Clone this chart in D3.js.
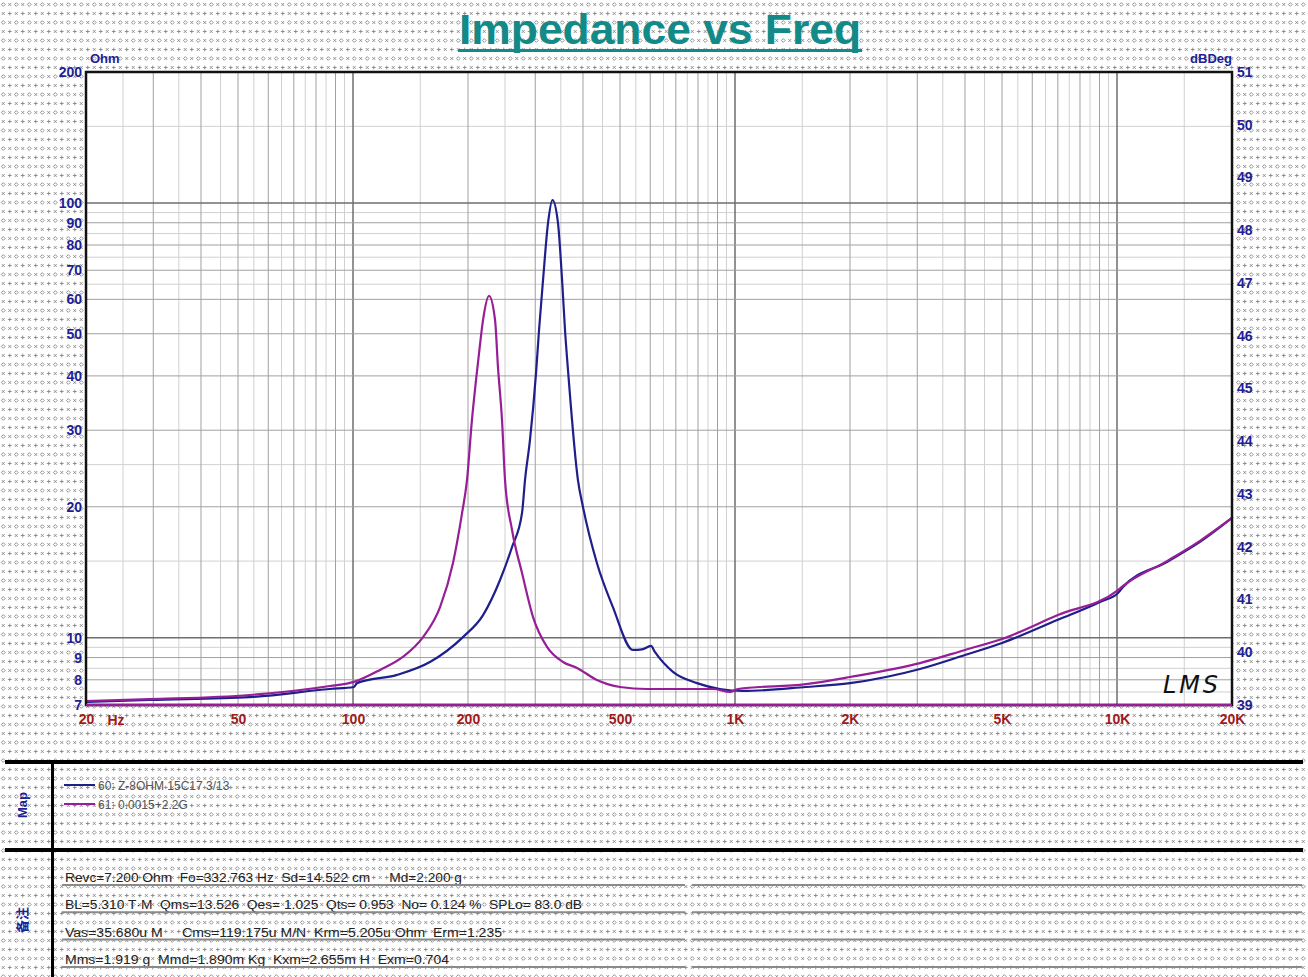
<!DOCTYPE html>
<html>
<head>
<meta charset="utf-8">
<script src="https://cdn.jsdelivr.net/npm/d3@7"></script>
<style>
body { margin: 0; background: #fff; }
svg { display: block; }
text { white-space: pre; }
</style>
</head>
<body>
<script>
var width = 1308;
var height = 977;

// 60: Z-8OHM 15C17 3/13  (Hz / Ohm)
var blueFreq = [20, 29.4, 53.7, 87, 100.6, 102.4, 130.4, 159, 194, 219, 242.6, 260.8, 277, 282, 290.6, 301.4, 306.9, 314.4, 324, 332.8, 344, 352.6, 358.9, 366.6, 388, 400, 435, 479, 540.6, 570.8, 602.6, 617, 688, 795, 913, 1049, 1534, 2000, 3050, 4000, 5000, 7000, 9026, 10060, 10370, 13510, 16490, 20000];
var blueOhm = [7.11, 7.19, 7.30, 7.62, 7.70, 7.86, 8.21, 8.79, 10.03, 11.27, 13.57, 16.16, 19.36, 23.04, 28.5, 40.6, 51.0, 66.5, 89.9, 101.5, 89.9, 66.5, 51.0, 39.8, 23.04, 19.98, 14.85, 11.76, 9.37, 9.40, 9.57, 9.27, 8.34, 7.86, 7.62, 7.54, 7.70, 7.86, 8.47, 9.12, 9.72, 10.99, 12.08, 12.67, 13.08, 14.93, 16.6, 18.85];

// 61: 0.0015+2.2G
var magFreq = [20, 29.4, 53.7, 87, 100.6, 117.7, 135, 152.5, 169, 182.7, 193, 198.8, 204.8, 209.9, 213.8, 219, 227, 235.4, 239.6, 245.5, 250, 260.8, 277, 296, 322, 354.6, 385.8, 435, 500, 588, 876, 970, 1018, 1534, 2000, 3050, 4000, 5000, 7000, 10000, 10370, 13510, 16490, 20000];
var magOhm = [7.15, 7.22, 7.38, 7.74, 7.91, 8.43, 9.03, 10.03, 11.76, 14.85, 19.36, 23.04, 31.66, 39.1, 45.2, 53.8, 61.1, 53.8, 41.9, 31.66, 23.04, 17.69, 14.08, 11.15, 9.52, 8.79, 8.52, 7.99, 7.70, 7.62, 7.62, 7.50, 7.62, 7.82, 8.12, 8.74, 9.37, 9.93, 11.27, 12.81, 13.15, 15.0, 16.7, 18.85];

var xTicks = [20, 50, 100, 200, 500, 1000, 2000, 5000, 10000, 20000];
var xTickLabels = ["20", "50", "100", "200", "500", "1K", "2K", "5K", "10K", "20K"];
var yTicks = [7, 8, 9, 10, 20, 30, 40, 50, 60, 70, 80, 90, 100, 200];
var yMinorGrid = [7.5, 8.5, 9.5, 15, 25, 65, 75, 85, 95, 150];
var rightTicks = [39, 40, 41, 42, 43, 44, 45, 46, 47, 48, 49, 50, 51];

var legendNames = ["60: Z-8OHM 15C17 3/13", "61: 0.0015+2.2G"];
var paramLines = [
    "Revc=7.200 Ohm  Fo=332.763 Hz  Sd=14.522 cm     Md=2.200 g",
    "BL=5.310 T\u00b7M  Qms=13.526  Qes= 1.025  Qts= 0.953  No= 0.124 %  SPLo= 83.0 dB",
    "Vas=35.680u M     Cms=119.175u M/N  Krm=5.205u Ohm  Erm=1.235",
    "Mms=1.919 g  Mmd=1.890m Kg  Kxm=2.655m H  Exm=0.704"
];
var paramWidths = [397, 517, 437, 384];

var navy = "#1e1e96";
var blueCol = "#1f1f8c";
var magCol = "#971e97";
var font = "'Liberation Sans', Arial, sans-serif";

var plotL = 86, plotT = 72, plotR = 1232, plotB = 705;

var x = d3.scaleLog().domain([20, 20000]).range([plotL, plotR]);
var y = d3.scaleLog().domain([7, 200]).range([plotB, plotT]);
var yR = d3.scaleLinear().domain([39, 51]).range([plotB, plotT]);

var svg = d3.select("body").append("svg")
    .attr("width", width)
    .attr("height", height);

// dotted background texture
var pat = svg.append("defs").append("pattern")
    .attr("id", "dots")
    .attr("patternUnits", "userSpaceOnUse")
    .attr("width", 13)
    .attr("height", 18);
pat.append("rect").attr("width", 13).attr("height", 18).attr("fill", "#fff");
pat.append("path")
    .attr("d", "M3.25,2.6L5.15,4.5L3.25,6.4L1.35,4.5Z M8.3,3.05L11.2,5.95M11.2,3.05L8.3,5.95 M1.8,12.05L4.7,14.95M4.7,12.05L1.8,14.95 M9.75,11.6V15.4M7.85,13.5H11.65")
    .attr("fill", "none")
    .attr("stroke", "#858585")
    .attr("stroke-width", 0.9);

svg.append("rect")
    .attr("width", width)
    .attr("height", height)
    .attr("fill", "url(#dots)");

// title
svg.append("text")
    .attr("x", 660)
    .attr("y", 44)
    .attr("text-anchor", "middle")
    .attr("font-family", font)
    .attr("font-weight", "bold")
    .attr("font-size", 42)
    .attr("fill", "#128a88")
    .attr("textLength", 402)
    .attr("lengthAdjust", "spacingAndGlyphs")
    .text("Impedance vs Freq");
svg.append("rect")
    .attr("x", 458).attr("y", 49)
    .attr("width", 404).attr("height", 3)
    .attr("fill", "#128a88");

// plot area
svg.append("rect")
    .attr("x", plotL).attr("y", plotT)
    .attr("width", plotR - plotL).attr("height", plotB - plotT)
    .attr("fill", "#fff");

// grid values
var xGrid = [];
[[20, 100, 5], [100, 1000, 50], [1000, 10000, 500], [10000, 20000, 5000]].forEach(function(s) {
    d3.range(s[0], s[1], s[2]).forEach(function(v) { xGrid.push(v); });
});
xGrid.push(20000);

function isDecade(v) { return [100, 1000, 10000].indexOf(v) >= 0; }
function isWhole(v) {
    var p = Math.pow(10, Math.floor(Math.log10(v)));
    return Math.abs(v / p - Math.round(v / p)) < 1e-9;
}

var grid = svg.append("g");

grid.selectAll(".ymin")
    .data(yMinorGrid)
    .enter().append("line")
    .attr("x1", plotL).attr("x2", plotR)
    .attr("y1", d => y(d)).attr("y2", d => y(d))
    .attr("stroke", "#d0d0d0");

grid.selectAll(".vx")
    .data(xGrid)
    .enter().append("line")
    .attr("x1", d => x(d)).attr("x2", d => x(d))
    .attr("y1", plotT).attr("y2", plotB)
    .attr("stroke", d => isDecade(d) ? "#6e6e6e" : (isWhole(d) ? "#a0a0a0" : "#d0d0d0"))
    .attr("stroke-width", d => isDecade(d) ? 1.5 : 1);

grid.selectAll(".ymaj")
    .data(yTicks)
    .enter().append("line")
    .attr("x1", plotL).attr("x2", plotR)
    .attr("y1", d => y(d)).attr("y2", d => y(d))
    .attr("stroke", d => (d === 10 || d === 100) ? "#6e6e6e" : "#a0a0a0")
    .attr("stroke-width", d => (d === 10 || d === 100) ? 1.5 : 1);

// curves
var line = d3.line()
    .x(d => x(d[0]))
    .y(d => y(d[1]))
    .curve(d3.curveMonotoneX);

var curves = [
    { color: blueCol, pts: d3.zip(blueFreq, blueOhm) },
    { color: magCol, pts: d3.zip(magFreq, magOhm) }
];

svg.append("g").selectAll("path")
    .data(curves)
    .enter().append("path")
    .attr("d", d => line(d.pts))
    .attr("fill", "none")
    .attr("stroke", d => d.color)
    .attr("stroke-width", 2.2)
    .attr("stroke-linejoin", "round");

// frame
svg.append("rect")
    .attr("x", plotL).attr("y", plotT)
    .attr("width", plotR - plotL).attr("height", plotB - plotT)
    .attr("fill", "none")
    .attr("stroke", "#111")
    .attr("stroke-width", 2.5);
svg.append("line")
    .attr("x1", plotL).attr("x2", plotR)
    .attr("y1", plotB).attr("y2", plotB)
    .attr("stroke", magCol)
    .attr("stroke-width", 2.5);

// axes
function styleAxis(g, color) {
    g.select(".domain").remove();
    g.selectAll("text")
        .attr("font-family", font)
        .attr("font-weight", "bold")
        .attr("font-size", 14)
        .attr("fill", color);
}

svg.append("g")
    .attr("transform", "translate(" + plotL + ",0)")
    .call(d3.axisLeft(y).tickValues(yTicks).tickFormat(d3.format("d")).tickSize(0).tickPadding(4))
    .call(g => styleAxis(g, navy));

svg.append("g")
    .attr("transform", "translate(" + plotR + ",0)")
    .call(d3.axisRight(yR).tickValues(rightTicks).tickFormat(d3.format("d")).tickSize(0).tickPadding(5))
    .call(g => styleAxis(g, navy));

svg.append("g")
    .attr("transform", "translate(0," + plotB + ")")
    .call(d3.axisBottom(x).tickValues(xTicks).tickFormat((d, i) => xTickLabels[i]).tickSize(0).tickPadding(9))
    .call(g => styleAxis(g, "#a01a1a"));

svg.append("text")
    .attr("x", 116).attr("y", 725)
    .attr("text-anchor", "middle")
    .attr("font-family", font).attr("font-weight", "bold").attr("font-size", 14)
    .attr("fill", "#a01a1a")
    .text("Hz");

svg.append("text")
    .attr("x", 90).attr("y", 63)
    .attr("font-family", font).attr("font-weight", "bold").attr("font-size", 13)
    .attr("fill", navy)
    .text("Ohm");
svg.append("text")
    .attr("x", 1232).attr("y", 63)
    .attr("text-anchor", "end")
    .attr("font-family", font).attr("font-weight", "bold").attr("font-size", 13)
    .attr("fill", navy)
    .text("dBDeg");

// LMS mark
svg.append("text")
    .attr("x", 1163).attr("y", 693)
    .attr("font-family", "'DejaVu Sans', sans-serif")
    .attr("font-style", "italic")
    .attr("font-size", 24)
    .attr("fill", "#111")
    .attr("textLength", 55)
    .text("LMS");

// lower panels
svg.append("rect").attr("x", 5).attr("y", 760).attr("width", 1298).attr("height", 4).attr("fill", "#000");
svg.append("rect").attr("x", 5).attr("y", 848).attr("width", 1298).attr("height", 4).attr("fill", "#000");
svg.append("rect").attr("x", 51).attr("y", 760).attr("width", 3).attr("height", height - 760).attr("fill", "#000");

svg.append("text")
    .attr("transform", "translate(27,805) rotate(-90)")
    .attr("text-anchor", "middle")
    .attr("font-family", font).attr("font-weight", "bold").attr("font-size", 13)
    .attr("fill", navy)
    .text("Map");

svg.append("text")
    .attr("transform", "translate(27,920) rotate(-90)")
    .attr("text-anchor", "middle")
    .attr("font-family", "'Noto Sans CJK SC', sans-serif").attr("font-weight", "bold").attr("font-size", 13)
    .attr("fill", navy)
    .text("备注");

// legend
var leg = svg.append("g").selectAll("g")
    .data(curves)
    .enter().append("g")
    .attr("transform", (d, i) => "translate(0," + (785 + i * 19) + ")");
leg.append("line")
    .attr("x1", 64).attr("x2", 95)
    .attr("stroke", d => d.color)
    .attr("stroke-width", 2);
leg.append("text")
    .attr("x", 98).attr("y", 4.5)
    .attr("font-family", font).attr("font-size", 12)
    .attr("fill", "#555")
    .text((d, i) => legendNames[i]);

// parameters
var par = svg.append("g").selectAll("g")
    .data(paramLines)
    .enter().append("g")
    .attr("transform", (d, i) => "translate(0," + (882 + i * 27.3) + ")");
par.append("text")
    .attr("x", 65).attr("y", 0)
    .attr("font-family", font).attr("font-size", 12)
    .attr("fill", "#222")
    .attr("textLength", (d, i) => paramWidths[i])
    .attr("lengthAdjust", "spacingAndGlyphs")
    .text(d => d);
par.append("line")
    .attr("x1", 62).attr("x2", 685)
    .attr("y1", 3).attr("y2", 3)
    .attr("stroke", "#8a8a8a").attr("stroke-width", 2);
par.append("line")
    .attr("x1", 692).attr("x2", 1302)
    .attr("y1", 3).attr("y2", 3)
    .attr("stroke", "#8a8a8a").attr("stroke-width", 2);
</script>
</body>
</html>
